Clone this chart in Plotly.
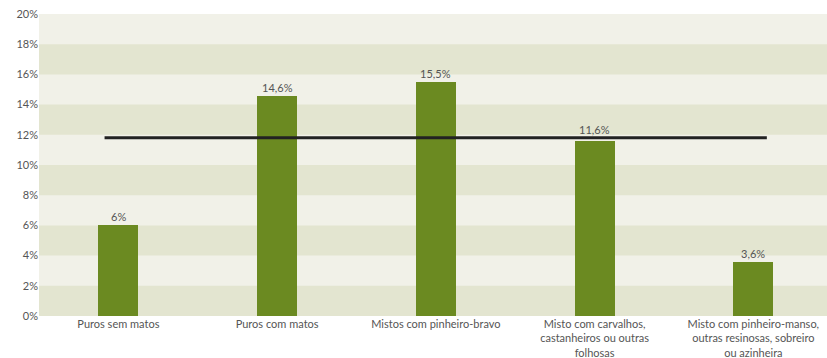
import plotly.graph_objects as go

# Share of burnt area by stand type (%)
categories = [
    "Puros sem matos",
    "Puros com matos",
    "Mistos com pinheiro-bravo",
    "Misto com carvalhos,<br>castanheiros ou outras<br>folhosas",
    "Misto com pinheiro-manso,<br>outras resinosas, sobreiro<br>ou azinheira",
]
values = [6.0, 14.6, 15.5, 11.6, 3.6]
reference_value = 11.8
y_ticks = [0, 2, 4, 6, 8, 10, 12, 14, 16, 18, 20]

BAR = "#6b8a21"
BAND_LIGHT = "#f1f1e8"
BAND_DARK = "#e3e5d0"
TEXT = "#555555"
FONT = "Lato"


def fmt(v):
    s = f"{v:.1f}".rstrip("0").rstrip(".")
    return s.replace(".", ",") + "%"


fig = go.Figure()
fig.add_trace(go.Bar(
    x=categories,
    y=values,
    width=0.252,
    marker=dict(color=BAR, line=dict(width=0)),
    hoverinfo="skip",
))

# value labels; a label that would sit on the reference line is lifted above it
annotations = []
for cat, v in zip(categories, values):
    base = v
    if v < reference_value and reference_value - v < 1.2:
        base = reference_value
    annotations.append(dict(
        x=cat, y=base, xref="x", yref="y",
        text=fmt(v), showarrow=False,
        yanchor="bottom", yshift=0,
        font=dict(family=FONT, size=11, color=TEXT),
    ))

# alternating horizontal bands behind the bars
shapes = []
for i, lo in enumerate(y_ticks[:-1]):
    if i % 2 == 0:
        shapes.append(dict(
            type="rect", xref="paper", yref="y",
            x0=0, x1=1, y0=lo, y1=y_ticks[i + 1],
            fillcolor=BAND_DARK, line=dict(width=0), layer="below",
        ))

# overall reference line across the categories
shapes.append(dict(
    type="line", xref="x", yref="y",
    x0=-0.087, x1=len(categories) - 1 + 0.085,
    y0=reference_value, y1=reference_value,
    line=dict(color="#222222", width=3), layer="above",
))

fig.update_layout(
    width=827, height=358,
    margin=dict(l=39, r=0, t=14, b=42),
    paper_bgcolor="white",
    plot_bgcolor=BAND_LIGHT,
    showlegend=False,
    shapes=shapes,
    annotations=annotations,
    bargap=0,
    font=dict(family=FONT, size=11, color=TEXT),
)
fig.update_xaxes(
    type="category",
    range=[-0.5, len(categories) - 1 + 0.464],
    showgrid=False, zeroline=False, showline=False,
    ticks="", tickfont=dict(family=FONT, size=11, color=TEXT),
    fixedrange=True,
)
fig.update_yaxes(
    range=[0, 20],
    tickvals=y_ticks,
    ticktext=[f"{t}%" for t in y_ticks],
    showgrid=False, zeroline=False, showline=False,
    ticks="", tickfont=dict(family=FONT, size=11, color=TEXT),
    fixedrange=True,
)

fig.write_html("out.html")
